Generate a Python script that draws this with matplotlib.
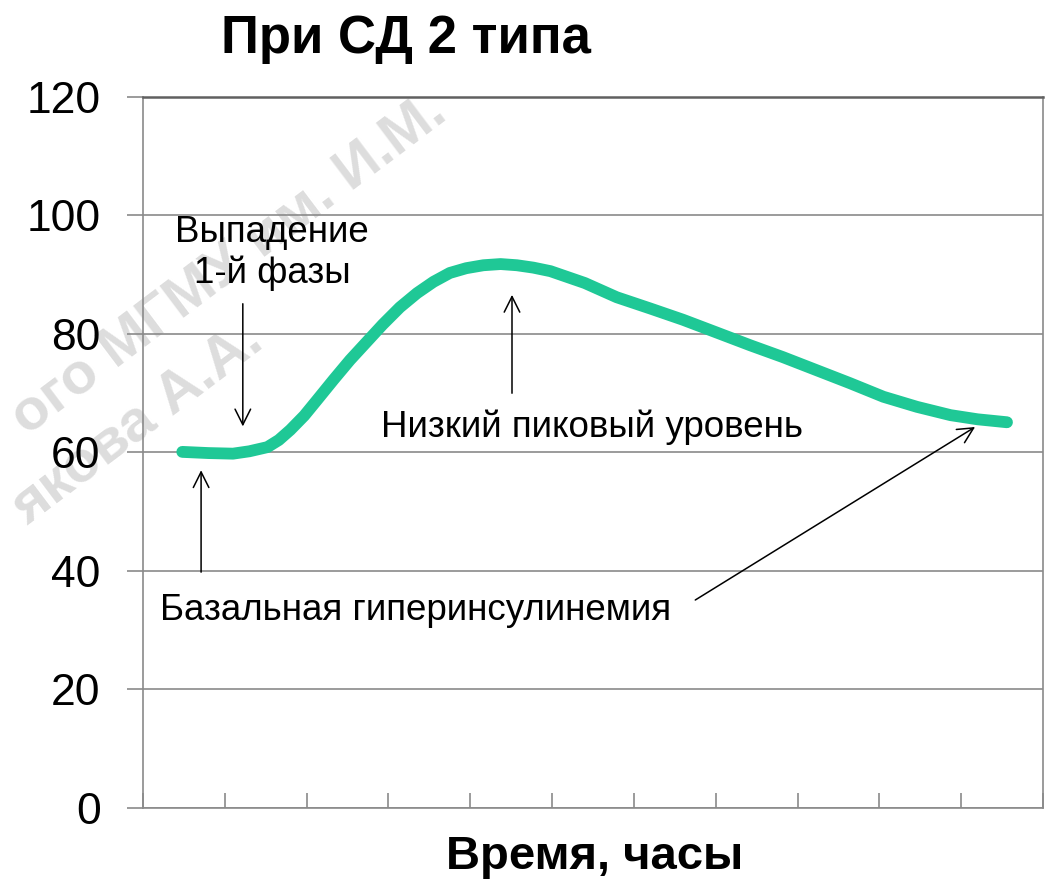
import matplotlib.pyplot as plt

# data (time in tick units, insulin level)
time = [0.48, 0.8, 1.1, 1.3, 1.52, 1.66, 1.8, 1.97, 2.13, 2.33, 2.53, 2.73,
        2.93, 3.14, 3.35, 3.55, 3.75, 3.95, 4.16, 4.37, 4.57, 4.77, 4.98,
        5.4, 5.79, 6.2, 6.6, 7.02, 7.42, 7.82, 8.23, 8.64, 9.05, 9.46, 9.87,
        10.2, 10.56]
insulin = [60.1, 59.9, 59.8, 60.2, 60.9, 62.1, 63.8, 66.2, 68.9, 72.3, 75.6,
           78.6, 81.6, 84.5, 86.9, 88.8, 90.3, 91.1, 91.6, 91.8, 91.6, 91.2,
           90.6, 88.6, 86.2, 84.3, 82.4, 80.2, 78.1, 76.1, 73.9, 71.7, 69.4,
           67.7, 66.3, 65.6, 65.1]
y_ticks = [0, 20, 40, 60, 80, 100, 120]
x_ticks = list(range(12))

title = "При СД 2 типа"
xlabel = "Время, часы"
note_phase = "Выпадение\n1-й фазы"
note_peak = "Низкий пиковый уровень"
note_basal = "Базальная гиперинсулинемия"
watermark = ["ого МГМУ им. И.М.", "якова А.А."]

plt.rcParams['font.family'] = ['Liberation Sans', 'DejaVu Sans']

fig = plt.figure(figsize=(10.53, 8.84), dpi=100)
ax = fig.add_axes([0.1358, 0.086, 0.8547, 0.8043])
ax.set_zorder(1)

# faint watermark behind the chart
wm = dict(color='#dddddd', fontsize=42, fontweight='bold', rotation=37,
          ha='left', va='bottom', zorder=0, rotation_mode='anchor')
fig.text(0.032, 1 - 445 / 884, watermark[0], **wm)
fig.text(0.032, 1 - 535 / 884, watermark[1], **wm)

ax.set_xlim(0, 11)
ax.set_ylim(0, 120)
ax.set_yticks(y_ticks)
ax.set_xticks(x_ticks)
ax.set_xticklabels([])
ax.grid(axis='y', color='#8a8a8a', linewidth=1.2)
ax.set_axisbelow(True)
ax.patch.set_alpha(0)
for s in ax.spines.values():
    s.set_color('#8a8a8a')
    s.set_linewidth(1.2)
ax.spines['top'].set_color('#606060')
ax.spines['top'].set_linewidth(1.8)
ax.tick_params(axis='y', direction='out', length=11.5, width=1.2, color='#8a8a8a',
               labelsize=32, pad=19)
ax.tick_params(axis='x', direction='in', length=11, width=1.2, color='#8a8a8a')

ax.plot(time, insulin, color='#1fc896', linewidth=8.5, solid_capstyle='round',
        solid_joinstyle='round', zorder=3)

arrow = dict(arrowstyle='->', color='black', lw=1.1, mutation_scale=28,
             shrinkA=0, shrinkB=0)
ax.annotate("", xy=(1.22, 64.4), xytext=(1.22, 85.1), arrowprops=arrow)
ax.annotate("", xy=(0.71, 57.0), xytext=(0.71, 39.8), arrowprops=arrow)
ax.annotate("", xy=(4.51, 86.6), xytext=(4.51, 70.0), arrowprops=arrow)
ax.annotate("", xy=(10.17, 64.3), xytext=(6.75, 35.1), arrowprops=arrow)

ax.text(1.58, 93.6, note_phase, ha='center', va='center', fontsize=26.5,
        linespacing=1.2)
ax.text(5.49, 62.6, note_peak, ha='center', va='baseline', fontsize=26.5)
ax.text(0.21, 31.7, note_basal, ha='left', va='baseline', fontsize=26.5)

fig.text(406 / 1053, 0.940, title, ha='center', va='baseline', fontsize=38,
         fontweight='bold')
fig.text(595 / 1053, 0.03, xlabel, ha='center', va='center', fontsize=34,
         fontweight='bold')

fig.savefig('out.png', dpi=100)
